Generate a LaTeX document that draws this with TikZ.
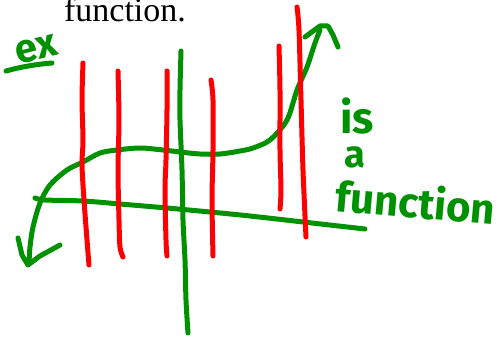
\documentclass[tikz,border=0pt]{standalone}
\usepackage{fontspec}
\setmainfont{Liberation Serif}
\newfontfamily\handfont{Fira Sans}
\definecolor{penGreen}{RGB}{0,145,0}
\definecolor{penRed}{RGB}{255,0,0}
\begin{document}
\begin{tikzpicture}[x=1pt,y=-1pt,
  greenpen/.style={draw=penGreen,line width=5pt,line cap=round,line join=round},
  redpen/.style={draw=penRed,line width=5pt,line cap=round,line join=round},
  hand/.style={text=penGreen,inner sep=0pt}]
\useasboundingbox (0,0) rectangle (504,339);
% printed title (cut at top)
\node[anchor=base,inner sep=0pt,font=\fontsize{34}{34}\selectfont] (title) at (125,22) {function.};
% "ex" label
\node[hand,font=\handfont\bfseries\fontsize{40}{40}\selectfont,rotate=14] (ex) at (36,49) {ex};
\draw[greenpen] (6,71) .. controls (20,67) and (38,64) .. (52,63);
% axes
\draw[greenpen] plot[smooth] coordinates {(35,198) (45,200) (83,201) (120,204) (167,208) (210,212) (250,216) (303,222) (365,229)};
\draw[greenpen] plot[smooth] coordinates {(181,51) (180,90) (180,120) (182,170) (183,220) (185,260) (186,300) (188,333)};
% cubic curve with arrows
\draw[greenpen] plot[smooth] coordinates {(29,263) (30,247) (33,227) (40,203) (50,185) (67,170) (83,162) (100,153) (117,150) (140,148) (163,150) (180,152) (200,154) (220,154) (240,151) (253,148) (270,140) (287,120) (297,90) (307,67) (315,43) (320,30)};
\draw[greenpen] (18,238) -- (22,255) -- (28,265) -- (40,256) -- (60,245);
\draw[greenpen] (305,37) -- (320,26) -- (328,26) -- (333,35) -- (338,47);
% vertical line test lines
\draw[redpen] plot[smooth] coordinates {(83,63) (82,100) (83,140) (82,165) (84,200) (87,240) (89,265)};
\draw[redpen] plot[smooth] coordinates {(118,71) (119,120) (118,170) (119,220) (120,247) (123,257)};
\draw[redpen] plot[smooth] coordinates {(167,71) (167,110) (166,160) (165,190) (166,240) (167,256)};
\draw[redpen] plot[smooth] coordinates {(211,80) (213,100) (213,150) (212,200) (213,256)};
\draw[redpen] plot[smooth] coordinates {(279,46) (280,90) (280,150) (281,190) (280,209)};
\draw[redpen] plot[smooth] coordinates {(297,7) (299,30) (301,100) (303,170) (306,237)};
% "is a function"
\node[hand,anchor=base west,font=\handfont\bfseries\fontsize{44}{44}\selectfont] (is) at (340,134) {is};
\node[hand,anchor=base west,font=\handfont\bfseries\fontsize{38}{38}\selectfont] (a) at (344,168) {a};
\node[hand,anchor=base west,rotate=-5,font=\handfont\bfseries\fontsize{42}{42}\selectfont] (fn) at (334,211) {function};
\end{tikzpicture}
\end{document}
